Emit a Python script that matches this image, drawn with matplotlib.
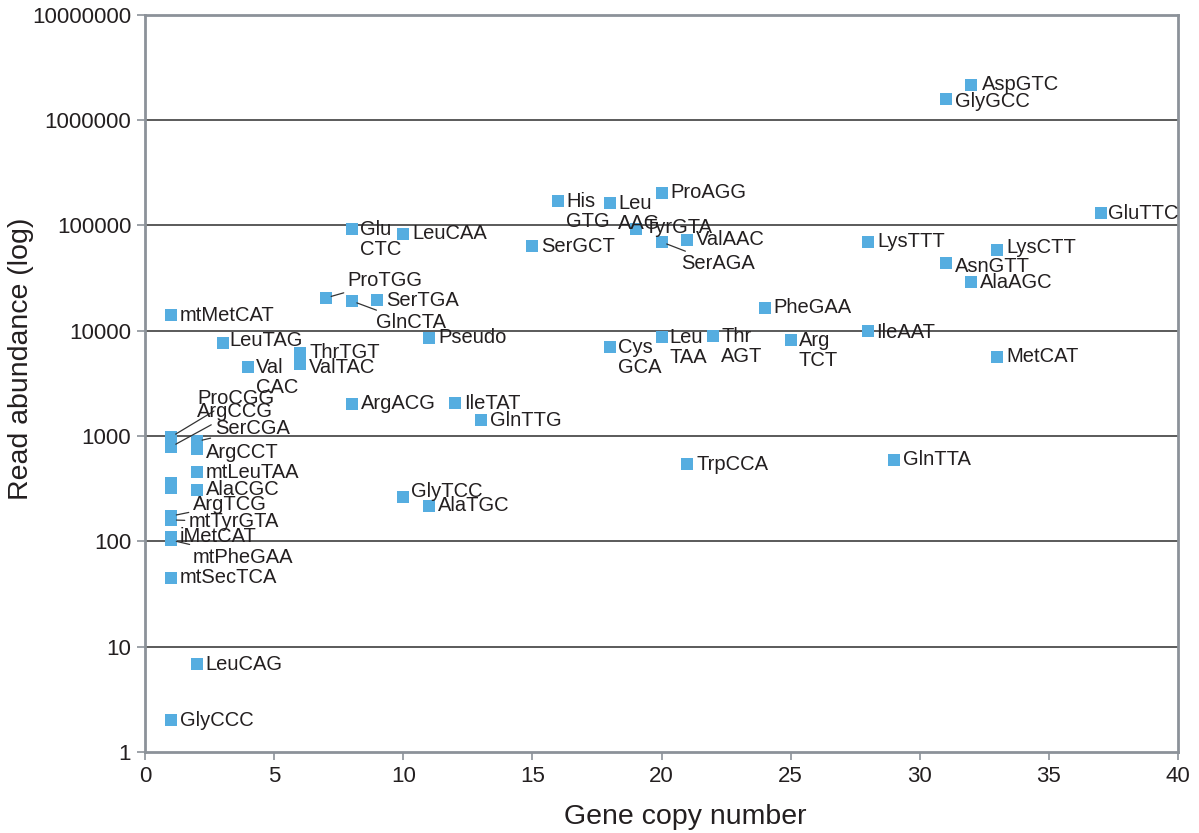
import matplotlib.pyplot as plt
from matplotlib.ticker import FixedLocator, FuncFormatter, NullLocator

plt.rcParams["font.family"] = ["Liberation Sans", "DejaVu Sans"]

# tRNA genes: copy number vs read abundance
names = [
    "AspGTC", "GlyGCC", "GluTTC", "ProAGG", "His\nGTG", "Leu\nAAG", "TyrGTA",
    "ValAAC", "SerAGA", "SerGCT", "Glu\nCTC", "LeuCAA", "LysTTT", "LysCTT",
    "AsnGTT", "AlaAGC", "ProTGG", "GlnCTA", "SerTGA", "PheGAA", "mtMetCAT",
    "IleAAT", "Leu\nTAA", "Thr\nAGT", "Arg\nTCT", "Pseudo", "LeuTAG", "Cys\nGCA",
    "ThrTGT", "MetCAT", "ValTAC", "Val\nCAC", "ArgACG", "IleTAT", "GlnTTG",
    "ProCGG", "ArgCCG", "SerCGA", "ArgCCT", "mtLeuTAA", "AlaCGC", "", "",
    "ArgTCG", "mtTyrGTA", "iMetCAT", "mtPheGAA", "mtSecTCA", "TrpCCA", "GlnTTA",
    "GlyTCC", "AlaTGC", "LeuCAG", "GlyCCC",
]
copies = [
    32, 31, 37, 20, 16, 18, 19,
    21, 20, 15, 8, 10, 28, 33,
    31, 32, 7, 8, 9, 24, 1,
    28, 20, 22, 25, 11, 3, 18,
    6, 33, 6, 4, 8, 12, 13,
    1, 1, 2, 2, 2, 2, 1, 1,
    1, 1, 1, 1, 1, 21, 29,
    10, 11, 2, 1,
]
reads = [
    2160000, 1590000, 131000, 204000, 171000, 164000, 92700,
    72800, 69700, 63800, 92700, 83000, 69700, 58500,
    44000, 29000, 20500, 19200, 19500, 16500, 14100,
    9960, 8730, 8930, 8180, 8550, 7660, 7020,
    6150, 5640, 4840, 4530, 2020, 2060, 1420,
    980, 790, 890, 754, 456, 308, 359, 321,
    174, 160, 110, 103, 45, 543, 593,
    264, 217, 6.85, 2.01,
]

# label offsets in pixels (dx, dy) and whether a leader line is drawn
offsets = {
    "ProTGG": (22, 17, True), "GlnCTA": (24, -22, True), "SerAGA": (20, -22, True),
    "ProCGG": (26, 39, True), "ArgCCG": (26, 35, True), "SerCGA": (18, 13, True),
    "ArgCCT": (9, -3, False), "ArgTCG": (22, 12, True), "mtTyrGTA": (18, -2, True),
    "iMetCAT": (9, 1, False), "mtPheGAA": (22, -17, True), "GlyTCC": (8, 6, False),
    "GlyGCC": (9, -3, False), "AspGTC": (11, 0, False), "LysCTT": (9, 2, False),
    "AsnGTT": (9, -3, False), "IleAAT": (8, -2, False), "LeuTAG": (7, 2, False),
    "ValTAC": (9, -4, False), "ThrTGT": (9, 1, False), "TyrGTA": (9, 1, False),
    "GluTTC": (7, 0, False),
}

fig = plt.figure(figsize=(11.99, 8.33), dpi=100)
ax = fig.add_axes([0.121, 0.0972, 0.8615, 0.885])

ax.scatter(copies, reads, marker="s", s=72, color="#55ade0", linewidths=0, zorder=3)

for name, x, y in zip(names, copies, reads):
    if not name:
        continue
    dx, dy, leader = offsets.get(name, (9, 0, False))
    if "\n" in name:
        ax.annotate(name, (x, y), xytext=(8, 9), textcoords="offset pixels",
                    ha="left", va="top", fontsize=14.5, color="#231f20",
                    linespacing=1.08, zorder=4)
        continue
    arrow = None
    if leader:
        arrow = dict(arrowstyle="-", color="#333333", lw=0.9, shrinkA=1, shrinkB=4)
    ax.annotate(name, (x, y), xytext=(dx, dy), textcoords="offset pixels",
                ha="left", va="center", fontsize=14.5, color="#231f20",
                arrowprops=arrow, zorder=4)

ax.set_yscale("log")
ax.set_xlim(0, 40)
ax.set_ylim(1, 1e7)
ax.xaxis.set_major_locator(FixedLocator(range(0, 41, 5)))
ax.yaxis.set_major_locator(FixedLocator([10 ** i for i in range(8)]))
ax.yaxis.set_minor_locator(NullLocator())
ax.yaxis.set_major_formatter(FuncFormatter(lambda v, p: f"{int(round(v))}"))

for i in range(1, 7):
    ax.axhline(10 ** i, color="#4d4d4d", lw=1.3, zorder=1)

for s in ax.spines.values():
    s.set_color("#8c9299")
    s.set_linewidth(2)
ax.tick_params(axis="both", direction="out", length=6, width=1.2, color="#8c9299",
               labelsize=16, labelcolor="#231f20", pad=4)

ax.set_xlabel("Gene copy number", fontsize=20.5, color="#231f20")
ax.set_ylabel("Read abundance (log)", fontsize=20.5, color="#231f20")
ax.xaxis.set_label_coords(0.523, -0.07)
ax.yaxis.set_label_coords(-0.108, 0.533)

fig.savefig("out.png", dpi=100)
